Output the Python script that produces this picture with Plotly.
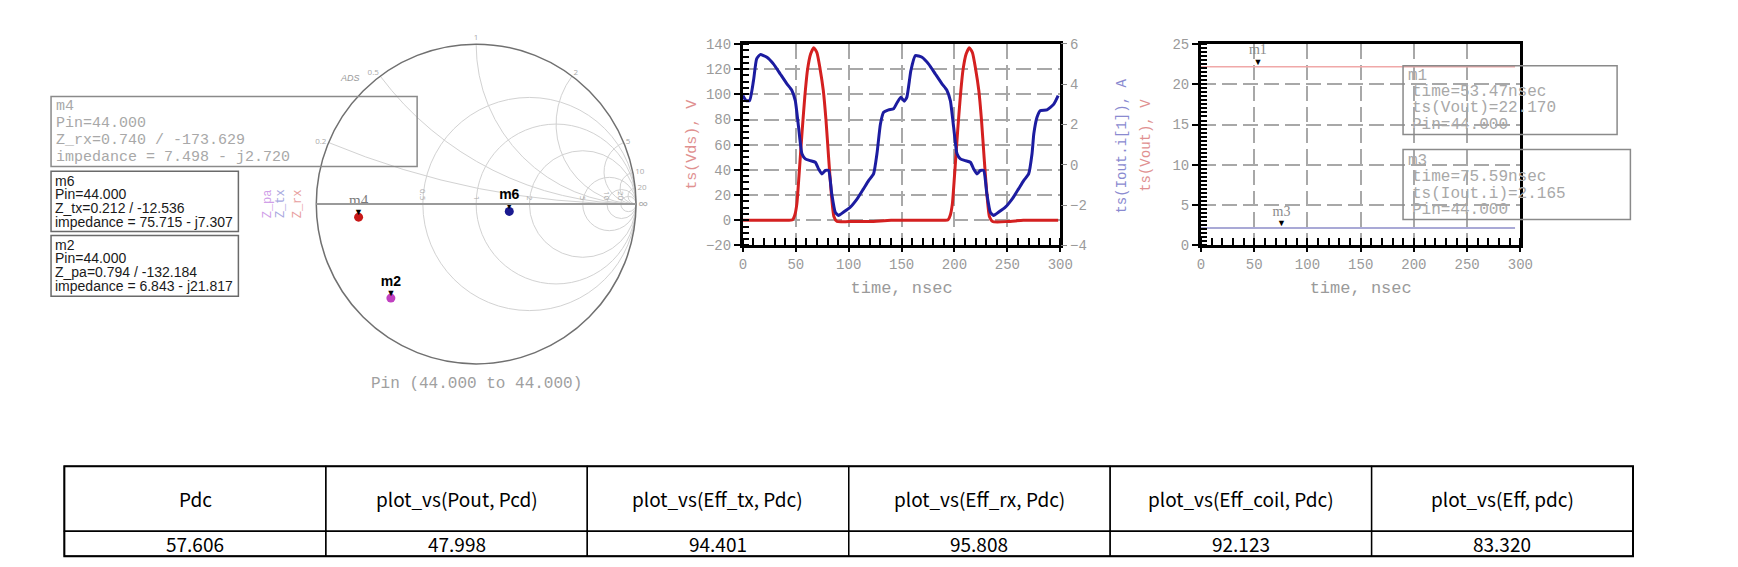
import plotly.graph_objects as go

# ---------------- data ----------------
# middle chart: ts(Vds) (left axis) and ts(Iout.i[1]) (right axis) vs time (nsec)
time_vds = [0, 20, 40, 47, 49, 51, 53, 56, 58.5, 61, 64, 67, 70, 73, 76, 78.5, 81, 83.5, 86, 89,
            100, 120, 140, 160, 180, 194, 196, 198, 200, 203, 205.5, 208, 211, 214, 217, 220,
            223, 225.5, 228, 230.5, 233, 236, 250, 265, 280, 298]
vds = [0, 0, 0, 0.5, 4, 13, 35, 71, 98, 119, 132, 137, 133, 120, 103, 80, 50, 22, 3, -1,
       -1, -1, 0, 0, 0, 0.5, 4, 13, 35, 71, 98, 119, 132, 137, 133, 120,
       103, 80, 50, 22, 3, -1, -1, 0, 0, 0]

time_iout = [0, 3, 6.3, 10, 13, 16.4, 22.7, 29, 35.3, 41.6, 46.3, 49.5, 52.6, 55.8, 59, 63.7,
             68.4, 71.5, 74.7, 78, 81, 84, 87.3, 90.4, 95, 101.5, 108, 114, 118.8, 123.5,
             126.7, 130, 133, 137.7, 142.4, 146, 149.4, 152.5, 155, 158.8, 163, 169.3, 175.6,
             181.9, 188.2, 192.9, 196.1, 199.2, 202.4, 205.6, 210.3, 215, 218.1, 221.3, 224.6,
             227.6, 230.6, 233.9, 237, 241.6, 248.1, 254.6, 260.6, 265.4, 270.1, 273.3, 275,
             278, 281, 287.4, 293.7, 298]
iout = [3.44, 3.19, 3.19, 4.18, 5.26, 5.47, 5.34, 5.0, 4.51, 4.02, 3.69, 3.19, 1.87, 0.55, 0.30, 0.21,
        0.13, -0.20, -0.45, -0.28, -0.28, -1.44, -2.35, -2.51, -2.35, -2.10, -1.69, -1.19, -0.78, -0.45,
        0.55, 2.03, 2.61, 2.73, 2.78, 3.11, 3.36, 3.16, 3.36, 4.68, 5.42, 5.34, 5.0,
        4.51, 4.02, 3.69, 3.19, 1.87, 0.55, 0.30, 0.21, 0.13, -0.20, -0.45, -0.28,
        -0.28, -1.44, -2.35, -2.51, -2.35, -2.10, -1.69, -1.19, -0.78, -0.45, 0.55, 1.54,
        2.36, 2.69, 2.73, 3.0, 3.44]

# right chart: constant levels
out_time = [0, 295]
vout_level = [22.170, 22.170]
iout_level = [2.165, 2.165]
m1_time, m1_val = 53.47, 22.170
m3_time, m3_val = 75.59, 2.165
pin = 44.000

# smith chart markers
smith_names = ["m4", "m6", "m2"]
smith_params = ["Z_rx", "Z_tx", "Z_pa"]
smith_mag = [0.740, 0.212, 0.794]
smith_ang = [-173.629, -12.536, -132.184]
smith_re = [7.498, 75.715, 6.843]
smith_im = [-2.720, -7.307, -21.817]
smith_colors = ["#c81818", "#1a1a90", "#c040c0"]
z0 = 50.0

# table
table_headers = ["Pdc", "plot_vs(Pout, Pcd)", "plot_vs(Eff_tx, Pdc)", "plot_vs(Eff_rx, Pdc)",
                 "plot_vs(Eff_coil, Pdc)", "plot_vs(Eff, pdc)"]
table_values = ["57.606", "47.998", "94.401", "95.808", "92.123", "83.320"]

# ---------------- helpers ----------------
W, H = 1738, 567
# empirical correction between intended screen pixels and the photographed page
SX, SY = 0.990, 0.9726
CX, CY = 4.0, 6.5


def px(x):
    return (x / SX - CX) / W


def py(y):
    return 1 - (y / SY - CY) / H


MONO = "Liberation Mono"
GRAY = "#9a9a9a"
ARIAL = "Liberation Sans"
TABLE_FONT = "Noto Sans CJK KR"


def marker_label(name, style):
    return "%s<br><span style='font-size:9px'>▼</span>" % (style % name)


fig = go.Figure()

# ---------------- middle chart ----------------
fig.add_trace(go.Scatter(x=time_vds, y=vds, mode="lines", line=dict(color="#d42020", width=3,
                         shape="spline", smoothing=0.5), xaxis="x", yaxis="y", showlegend=False))
fig.add_trace(go.Scatter(x=time_iout, y=iout, mode="lines", line=dict(color="#1c1ca0", width=3,
                         shape="spline", smoothing=0.5), xaxis="x", yaxis="y2", showlegend=False))

# ---------------- right chart ----------------
fig.add_trace(go.Scatter(x=out_time, y=vout_level, mode="lines", line=dict(color="#f0a8a8", width=1.5),
                         xaxis="x2", yaxis="y3", showlegend=False))
fig.add_trace(go.Scatter(x=out_time, y=iout_level, mode="lines", line=dict(color="#8c8cc8", width=1.5),
                         xaxis="x2", yaxis="y3", showlegend=False))
gray_style = "<span style='color:#8a8a8a;font-family:Liberation Serif;font-size:14px'>%s</span>"
fig.add_trace(go.Scatter(x=[m1_time, m3_time], y=[m1_val, m3_val], mode="text",
                         text=[marker_label("m1", gray_style), marker_label("m3", gray_style)],
                         textposition="top center", textfont=dict(color="black", size=8, family=ARIAL),
                         xaxis="x2", yaxis="y3", showlegend=False))

# ---------------- smith chart ----------------
for i, name in enumerate(smith_names):
    if name == "m4":
        st = "<span style='color:#7a7a7a;font-family:Liberation Serif;font-size:15px'>%s</span>"
    else:
        st = "<b style='font-size:14px'>%s</b>"
    fig.add_trace(go.Scattersmith(real=[smith_re[i] / z0], imag=[smith_im[i] / z0],
                                  mode="markers", marker=dict(color=smith_colors[i], size=9),
                                  showlegend=False))
    fig.add_trace(go.Scattersmith(real=[smith_re[i] / z0], imag=[smith_im[i] / z0],
                                  mode="text", text=[marker_label(name, st)], textposition="top center",
                                  textfont=dict(color="black", size=8, family=ARIAL),
                                  showlegend=False))

tickfont = dict(family=MONO, size=14, color=GRAY)
griddash = "15px,6px"

fig.update_layout(
    width=W, height=H, margin=dict(l=0, r=0, t=0, b=0),
    paper_bgcolor="white", plot_bgcolor="white", hovermode=False,
    xaxis=dict(domain=[px(742.7), px(1060)], range=[0, 300], dtick=50, anchor="y",
               showgrid=True, gridcolor="#a8a8a8", gridwidth=2, griddash=griddash,
               showline=True, linecolor="black", linewidth=3, mirror=True, zeroline=False,
               ticks="outside", ticklen=4, tickcolor="black", tickwidth=2,
               minor=dict(dtick=10, ticks="inside", ticklen=7, tickcolor="black", tickwidth=2, showgrid=False),
               tickfont=tickfont,
               title=dict(text="time, nsec", font=dict(family=MONO, size=17, color=GRAY), standoff=9)),
    yaxis=dict(domain=[py(245), py(43.3)], range=[-20, 140], dtick=20, anchor="x",
               showgrid=True, gridcolor="#a8a8a8", gridwidth=2, griddash=griddash,
               showline=True, linecolor="black", linewidth=3, mirror=True, zeroline=False,
               ticks="outside", ticklen=6, tickcolor="black", tickwidth=2,
               minor=dict(dtick=5, ticks="inside", ticklen=6, tickcolor="black", tickwidth=2, showgrid=False),
               tickfont=tickfont,
               title=dict(text="ts(Vds), V", font=dict(family=MONO, size=15, color="#e09090"), standoff=6)),
    yaxis2=dict(range=[-4, 6], dtick=2, overlaying="y", side="right", anchor="x",
                showgrid=False, zeroline=False, showline=False,
                ticks="outside", ticklen=6, tickcolor="#888", tickwidth=1,
                tickfont=tickfont),
    xaxis2=dict(domain=[px(1200.7), px(1520)], range=[0, 300], dtick=50, anchor="y3",
                showgrid=True, gridcolor="#a8a8a8", gridwidth=2, griddash=griddash,
                showline=True, linecolor="black", linewidth=3, mirror=True, zeroline=False,
                ticks="outside", ticklen=4, tickcolor="black", tickwidth=2,
                minor=dict(dtick=10, ticks="inside", ticklen=7, tickcolor="black", tickwidth=2, showgrid=False),
                tickfont=tickfont,
                title=dict(text="time, nsec", font=dict(family=MONO, size=17, color=GRAY), standoff=9)),
    yaxis3=dict(domain=[py(245), py(43.3)], range=[0, 25], dtick=5, anchor="x2",
                showgrid=True, gridcolor="#a8a8a8", gridwidth=2, griddash=griddash,
                showline=True, linecolor="black", linewidth=3, mirror=True, zeroline=False,
                ticks="outside", ticklen=6, tickcolor="black", tickwidth=2,
                minor=dict(dtick=0.5, ticks="inside", ticklen=6, tickcolor="black", tickwidth=2, showgrid=False),
                tickfont=tickfont),
    smith=dict(
        domain=dict(x=[px(316), px(636)], y=[py(363.5), py(43.5)]),
        bgcolor="rgba(0,0,0,0)",
        realaxis=dict(tickvals=[0.5, 1, 2, 5, 10, 20], gridcolor="#d2d2d2", gridwidth=1,
                      linecolor="#9a9a9a", linewidth=2, tickfont=dict(size=8, color="#aaaaaa")),
        imaginaryaxis=dict(tickvals=[0.2, 0.5, 1, 2, 5, 10, 20], gridcolor="#d2d2d2", gridwidth=1,
                           linecolor="#707070", linewidth=1.5, tickfont=dict(size=8, color="#aaaaaa")),
    ),
)

ann = []
shapes = []


def text_at(x, y, text, font, xanchor="left", angle=0):
    ann.append(dict(x=px(x), y=py(y), xref="paper", yref="paper", text=text, showarrow=False,
                    xanchor=xanchor, yanchor="middle", font=font, textangle=angle))


def box(x0, y0, x1, y1, color, width=1.5):
    shapes.append(dict(type="rect", xref="paper", yref="paper", x0=px(x0), x1=px(x1), y0=py(y1), y1=py(y0),
                       line=dict(color=color, width=width), fillcolor="rgba(255,255,255,0)"))


# right axis titles of middle chart
text_at(1121.7, 145, "ts(Iout.i[1]), A", dict(family=MONO, size=14, color="#8a8ad0"), "center", -90)
text_at(1145, 145, "ts(Vout), V", dict(family=MONO, size=14, color="#e09090"), "center", -90)

# smith marker readout boxes
m4_lines = [smith_names[0], "Pin=%.3f" % pin,
            "%s=%.3f / %.3f" % (smith_params[0], smith_mag[0], smith_ang[0]),
            "impedance = %.3f - j%.3f" % (smith_re[0], -smith_im[0])]
box(51, 96, 417, 166, "#8a8a8a")
for yy, t in zip([106, 122.5, 139.5, 156.5], m4_lines):
    text_at(54, yy, t, dict(family=MONO, size=15, color="#a8a8a8"))

for idx, (y0, y1, ys) in zip([1, 2], [(170.7, 231, [180, 193.5, 207.5, 221.5]),
                                     (235, 295.7, [244.5, 258, 272, 286])]):
    lines = [smith_names[idx], "Pin=%.3f" % pin,
             "%s=%.3f / %.3f" % (smith_params[idx], smith_mag[idx], smith_ang[idx]),
             "impedance = %.3f - j%.3f" % (smith_re[idx], -smith_im[idx])]
    box(51, y0, 238.3, y1, "#6a6a6a")
    for yy, t in zip(ys, lines):
        text_at(52.5, yy, t, dict(family=ARIAL, size=14, color="#1a1a1a"))

# rotated trace labels beside smith chart
for xx, t, c in zip([267.7, 280.5, 297.7], ["Z_pa", "Z_tx", "Z_rx"], ["#d0a0e8", "#a8a8e0", "#e8a0a0"]):
    text_at(xx, 203, t, dict(family=MONO, size=12, color=c), "center", -90)

text_at(350, 77, "<i>ADS</i>", dict(family=ARIAL, size=9, color="#999999"), "center")
text_at(476, 383.5, "Pin (%.3f to %.3f)" % (pin, pin), dict(family=MONO, size=16, color="#a0a0a0"), "center")

# right chart readout boxes
r1 = ["m1", "time=%.2fnsec" % m1_time, "ts(Vout)=%.3f" % m1_val, "Pin=%.3f" % pin]
r3 = ["m3", "time=%.2fnsec" % m3_time, "ts(Iout.i)=%.3f" % m3_val, "Pin=%.3f" % pin]
box(1402.7, 65, 1616.7, 134, "#8a8a8a")
box(1402.7, 149, 1630, 219, "#8a8a8a")
for ys, lines in [([75, 91.7, 107.3, 124.5], r1), ([160.7, 176.7, 193.3, 209], r3)]:
    for k, (yy, t) in enumerate(zip(ys, lines)):
        text_at(1406 if k == 0 else 1410, yy, t, dict(family=MONO, size=16, color="#a8a8a8"))

# ---------------- table (cells drawn from the arrays) ----------------
tx0, tx1 = 64.3, 1632.6
ty0, ty_mid, ty1 = 466, 531, 556
ncol = len(table_headers)
cw = (tx1 - tx0) / ncol
for c in range(ncol):
    cx0 = tx0 + c * cw
    box(cx0, ty0, cx0 + cw, ty_mid, "black", 1.3)
    box(cx0, ty_mid, cx0 + cw, ty1, "black", 1.3)
    text_at(cx0 + cw / 2, 498.5, table_headers[c], dict(family=TABLE_FONT, size=19, color="black"), "center")
    text_at(cx0 + cw / 2, 543.5, table_values[c], dict(family=TABLE_FONT, size=19, color="black"), "center")
box(tx0, ty0, tx1, ty1, "black", 2)

fig.update_layout(annotations=ann, shapes=shapes)

fig.write_html("out.html", config={"displayModeBar": False},
               post_script="document.body.style.margin='0';document.body.style.overflow='hidden';")
